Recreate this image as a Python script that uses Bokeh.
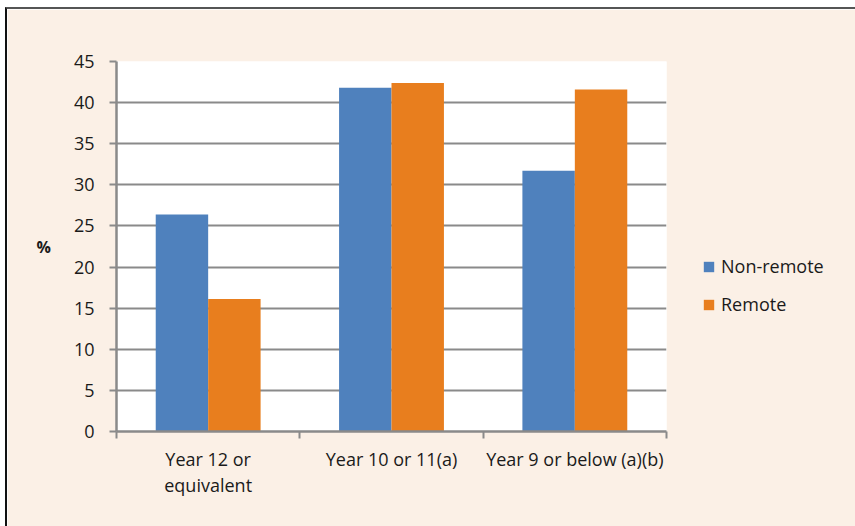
from bokeh.plotting import figure
from bokeh.models import ColumnDataSource, FixedTicker, Legend, LegendItem, Range1d
from bokeh.transform import dodge
from bokeh.embed import file_html
from bokeh.resources import INLINE

# Highest year of school completed, by remoteness (%)
categories = ["Year 12 or\nequivalent", "Year 10 or 11(a)", "Year 9 or below (a)(b)"]
non_remote = [26.4, 41.8, 31.7]
remote = [16.1, 42.4, 41.6]
y_ticks = [0, 5, 10, 15, 20, 25, 30, 35, 40, 45]

BLUE = "#4F81BD"
ORANGE = "#E87E1E"
BEIGE = "#FBF0E6"
GREY = "#8A8A8A"
TEXT = "#1A1A1A"
FONT = "Open Sans"

centres = [i + 0.5 for i in range(len(categories))]
source = ColumnDataSource(dict(x=centres, non_remote=non_remote, remote=remote))

p = figure(
    width=848, height=517,
    frame_width=550, frame_height=370,
    min_border_left=109, min_border_top=52,
    min_border_right=189, min_border_bottom=95,
    x_range=Range1d(0, len(categories)), y_range=Range1d(0, 45),
    output_backend="svg", toolbar_location=None,
    background_fill_color="white", border_fill_color=BEIGE,
    outline_line_color=None,
)
p.margin = (7, 0, 0, 5)
p.styles = {"border-top": "2px solid #555555", "border-left": "2px solid #111111"}

bw = 0.286
r1 = p.vbar(x=dodge("x", -bw / 2, range=p.x_range), top="non_remote", width=bw,
            source=source, fill_color=BLUE, line_color=None)
r2 = p.vbar(x=dodge("x", bw / 2, range=p.x_range), top="remote", width=bw,
            source=source, fill_color=ORANGE, line_color=None)

# x axis: labels at category centres, tick marks at category boundaries
p.xaxis.ticker = FixedTicker(ticks=centres, minor_ticks=list(range(len(categories) + 1)))
p.xaxis.major_label_overrides = {c: lab for c, lab in zip(centres, categories)}
p.xaxis.major_tick_out = 0
p.xaxis.major_tick_in = 0
p.xaxis.minor_tick_out = 7
p.xaxis.minor_tick_in = 0
p.xaxis.minor_tick_line_color = GREY
p.xaxis.minor_tick_line_width = 2
p.xaxis.axis_line_color = GREY
p.xaxis.axis_line_width = 2.5
p.xaxis.major_label_standoff = 8
p.xaxis.major_label_text_font = FONT
p.xaxis.major_label_text_font_size = "18px"
p.xaxis.major_label_text_color = TEXT
p.xaxis.major_label_text_line_height = 1.1

p.yaxis.ticker = FixedTicker(ticks=y_ticks, minor_ticks=[])
p.yaxis.major_tick_out = 7
p.yaxis.major_tick_in = 0
p.yaxis.major_tick_line_color = GREY
p.yaxis.major_tick_line_width = 2
p.yaxis.axis_line_color = GREY
p.yaxis.axis_line_width = 2.5
p.yaxis.major_label_standoff = 15
p.yaxis.major_label_text_font = FONT
p.yaxis.major_label_text_font_size = "18px"
p.yaxis.major_label_text_color = TEXT
p.yaxis.axis_label = "%"
p.yaxis.axis_label_orientation = "horizontal"
p.yaxis.axis_label_text_font = FONT
p.yaxis.axis_label_text_font_style = "bold"
p.yaxis.axis_label_text_font_size = "16px"
p.yaxis.axis_label_text_color = TEXT
p.yaxis.axis_label_standoff = 20

p.xgrid.grid_line_color = None
p.ygrid.ticker = FixedTicker(ticks=y_ticks)
p.ygrid.grid_line_color = GREY
p.ygrid.grid_line_width = 2

legend = Legend(
    items=[LegendItem(label="Non-remote", renderers=[r1]),
           LegendItem(label="Remote", renderers=[r2])],
    location=(36, 115), padding=0, margin=0,
    background_fill_alpha=0, border_line_color=None,
    glyph_width=13, glyph_height=13, spacing=14,
    label_text_font=FONT, label_text_font_size="18px", label_text_color=TEXT,
    label_standoff=6,
)
p.add_layout(legend, "right")

open("out.html", "w").write(file_html(p, INLINE))
